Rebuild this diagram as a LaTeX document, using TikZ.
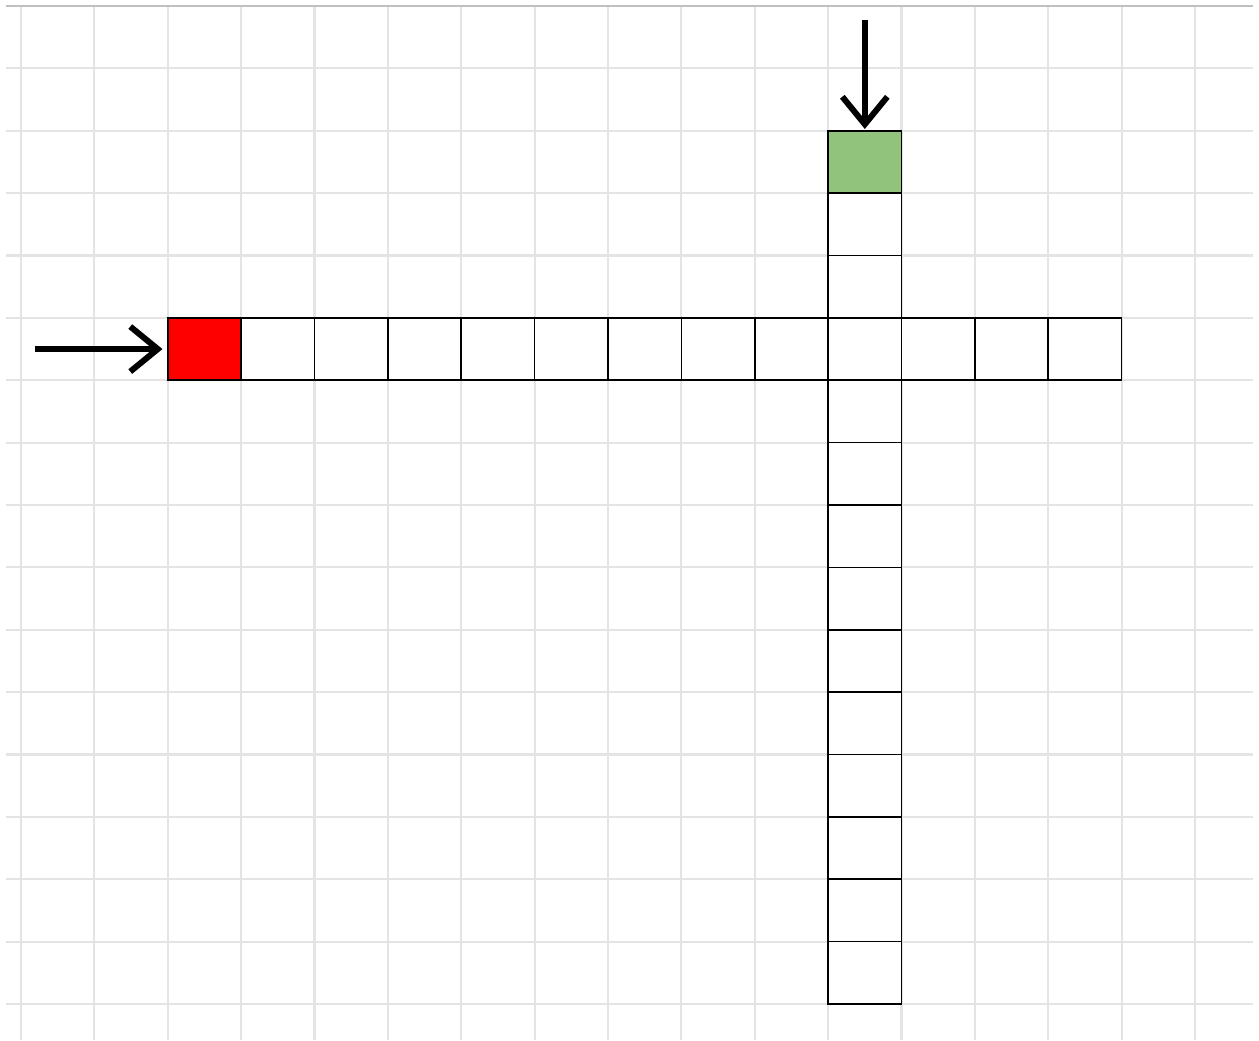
\documentclass[tikz,border=0pt]{standalone}
\usepackage{xcolor}
\usepackage{tikz}
\usetikzlibrary{arrows.meta,positioning}
\definecolor{gridgray}{RGB}{228,228,228}
\definecolor{edgegray}{RGB}{192,192,192}
\definecolor{startred}{RGB}{255,0,0}
\definecolor{goalgreen}{RGB}{145,195,125}

\begin{document}
\begin{tikzpicture}[x=1.4675cm, y=1.2475cm,
  cell/.style={draw=black, line width=0.9pt, fill=white, minimum width=1.4675cm,
    minimum height=1.2475cm, inner sep=0pt, outer sep=0pt},
  pointer/.style={line width=3.4pt, -{Straight Barb[length=0.55cm, width=0.9cm]}}]
  % Cells: 1 unit = 73.4px wide, 62.4px high; row j runs from -j to -(j+1)
  \useasboundingbox (-0.2862,-16.577) rectangle (16.872,0.0962);

  % Background grid
  \foreach \gx in {0,...,16}{
    \draw[gridgray, line width=1.2pt] (\gx,0) -- (\gx,-16.577);
  }
  \foreach \gy in {1,...,16}{
    \draw[gridgray, line width=1.2pt] (-0.204,-\gy) -- (16.79,-\gy);
  }
  \draw[edgegray, line width=1.1pt] (-0.204,0) -- (16.79,0);

  % Horizontal row of cells (row 5)
  \node[cell, fill=startred] (h2) at (2.5,-5.5) {};
  \foreach \cx in {3,...,14}{
    \node[cell] (h\cx) at (\cx+0.5,-5.5) {};
  }

  % Vertical column of cells (column 11)
  \node[cell, fill=goalgreen] (v2) at (11.5,-2.5) {};
  \foreach \cy in {3,4,6,7,8,9,10,11,12,13,14,15}{
    \node[cell] (v\cy) at (11.5,-\cy-0.5) {};
  }

  % Entry arrows
  \coordinate (west in) at (0.19,-5.5);
  \coordinate (north in) at (11.5,-0.22);
  \draw[pointer, shorten >=3pt] (west in) -- (h2.west);
  \draw[pointer, shorten >=1pt] (north in) -- (v2.north);
\end{tikzpicture}
\end{document}
